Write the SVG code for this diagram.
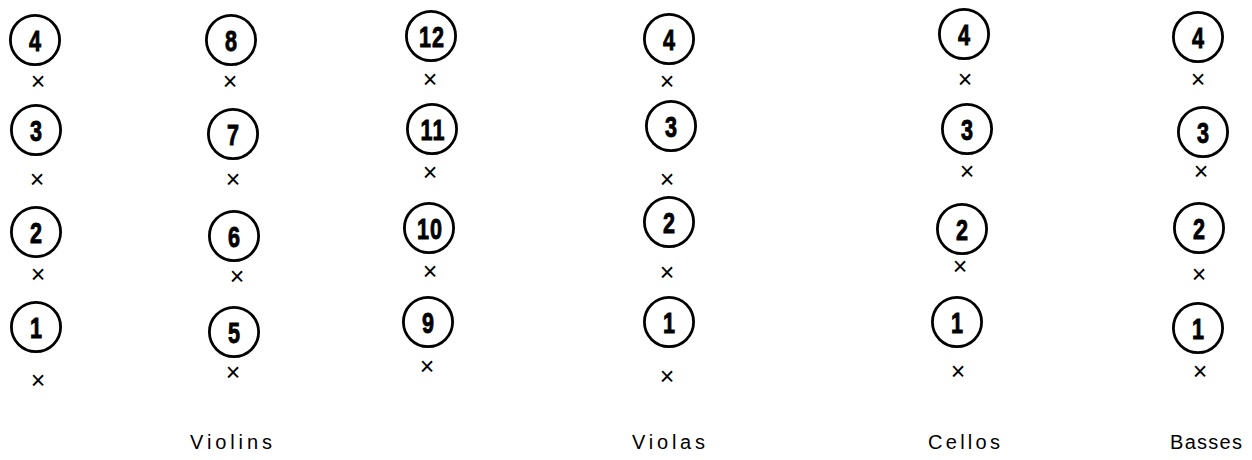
<svg xmlns="http://www.w3.org/2000/svg" width="1252" height="460" viewBox="0 0 1252 460">
  <style>
    .ring { fill: none; stroke: #000; stroke-width: 2.8; }
    .num { font-family: "Liberation Sans", "DejaVu Sans", sans-serif; font-weight: bold; font-size: 30px; text-anchor: middle; fill: #000; stroke: #000; stroke-width: 0.9; }
    .wide { letter-spacing: 1.5px; }
    .mark { font-family: "Liberation Sans", "DejaVu Sans", sans-serif; font-size: 25px; text-anchor: middle; fill: #000; }
    .section { font-family: "Liberation Sans", "DejaVu Sans", sans-serif; font-size: 20px; fill: #000; }
  </style>
  <defs>
    <!-- seat: ring of radius 24.6 centred on the origin -->
    <circle id="seat" r="24.6" class="ring"/>
  </defs>
  <rect width="1252" height="460" fill="#fff"/>

  <!-- First violins, desks 1-4 -->
  <g id="vn-4"><use href="#seat" x="35" y="40"/><text class="num" transform="translate(35,51) scale(0.72,1)">4</text><text class="mark" x="38" y="90">×</text></g>
  <g id="vn-3"><use href="#seat" x="36" y="130"/><text class="num" transform="translate(36,141) scale(0.72,1)">3</text><text class="mark" x="37" y="188">×</text></g>
  <g id="vn-2"><use href="#seat" x="36" y="232"/><text class="num" transform="translate(36,243) scale(0.72,1)">2</text><text class="mark" x="38" y="283">×</text></g>
  <g id="vn-1"><use href="#seat" x="36" y="327"/><text class="num" transform="translate(36,338) scale(0.72,1)">1</text><text class="mark" x="38" y="389">×</text></g>

  <!-- Violins, desks 5-8 -->
  <g id="vn-8"><use href="#seat" x="231" y="40"/><text class="num" transform="translate(231,51) scale(0.72,1)">8</text><text class="mark" x="230" y="90">×</text></g>
  <g id="vn-7"><use href="#seat" x="233" y="134"/><text class="num" transform="translate(233,145) scale(0.72,1)">7</text><text class="mark" x="233" y="188">×</text></g>
  <g id="vn-6"><use href="#seat" x="234" y="236"/><text class="num" transform="translate(234,247) scale(0.72,1)">6</text><text class="mark" x="237" y="285">×</text></g>
  <g id="vn-5"><use href="#seat" x="234" y="332"/><text class="num" transform="translate(234,343) scale(0.72,1)">5</text><text class="mark" x="233" y="381">×</text></g>

  <!-- Violins, desks 9-12 -->
  <g id="vn-12"><use href="#seat" x="431" y="36"/><text class="num wide" transform="translate(432,47) scale(0.72,1)">12</text><text class="mark" x="430" y="88">×</text></g>
  <g id="vn-11"><use href="#seat" x="432" y="129"/><text class="num wide" transform="translate(433,140) scale(0.72,1)">11</text><text class="mark" x="430" y="181">×</text></g>
  <g id="vn-10"><use href="#seat" x="429" y="228"/><text class="num wide" transform="translate(430,239) scale(0.72,1)">10</text><text class="mark" x="430" y="280">×</text></g>
  <g id="vn-9"><use href="#seat" x="428" y="322"/><text class="num" transform="translate(428,333) scale(0.72,1)">9</text><text class="mark" x="427" y="375">×</text></g>

  <!-- Violas -->
  <g id="va-4"><use href="#seat" x="669" y="39"/><text class="num" transform="translate(669,50) scale(0.72,1)">4</text><text class="mark" x="667" y="90">×</text></g>
  <g id="va-3"><use href="#seat" x="671" y="126"/><text class="num" transform="translate(671,137) scale(0.72,1)">3</text><text class="mark" x="667" y="188">×</text></g>
  <g id="va-2"><use href="#seat" x="669" y="222"/><text class="num" transform="translate(669,233) scale(0.72,1)">2</text><text class="mark" x="667" y="281">×</text></g>
  <g id="va-1"><use href="#seat" x="669" y="322"/><text class="num" transform="translate(669,333) scale(0.72,1)">1</text><text class="mark" x="667" y="385">×</text></g>

  <!-- Cellos -->
  <g id="vc-4"><use href="#seat" x="964" y="34"/><text class="num" transform="translate(964,45) scale(0.72,1)">4</text><text class="mark" x="965" y="88">×</text></g>
  <g id="vc-3"><use href="#seat" x="967" y="129"/><text class="num" transform="translate(967,140) scale(0.72,1)">3</text><text class="mark" x="967" y="180">×</text></g>
  <g id="vc-2"><use href="#seat" x="962" y="229"/><text class="num" transform="translate(962,240) scale(0.72,1)">2</text><text class="mark" x="960" y="275">×</text></g>
  <g id="vc-1"><use href="#seat" x="957" y="322"/><text class="num" transform="translate(957,333) scale(0.72,1)">1</text><text class="mark" x="958" y="380">×</text></g>

  <!-- Basses -->
  <g id="cb-4"><use href="#seat" x="1198" y="37"/><text class="num" transform="translate(1198,48) scale(0.72,1)">4</text><text class="mark" x="1198" y="88">×</text></g>
  <g id="cb-3"><use href="#seat" x="1203" y="132"/><text class="num" transform="translate(1203,143) scale(0.72,1)">3</text><text class="mark" x="1201" y="180">×</text></g>
  <g id="cb-2"><use href="#seat" x="1199" y="228"/><text class="num" transform="translate(1199,239) scale(0.72,1)">2</text><text class="mark" x="1199" y="283">×</text></g>
  <g id="cb-1"><use href="#seat" x="1198" y="328"/><text class="num" transform="translate(1198,339) scale(0.72,1)">1</text><text class="mark" x="1200" y="380">×</text></g>

  <!-- Section names -->
  <g id="labels">
    <text class="section" x="190" y="449" textLength="82" lengthAdjust="spacing">Violins</text>
    <text class="section" x="632" y="449" textLength="73" lengthAdjust="spacing">Violas</text>
    <text class="section" x="928" y="449" textLength="72" lengthAdjust="spacing">Cellos</text>
    <text class="section" x="1170" y="449" textLength="72" lengthAdjust="spacing">Basses</text>
  </g>
</svg>
